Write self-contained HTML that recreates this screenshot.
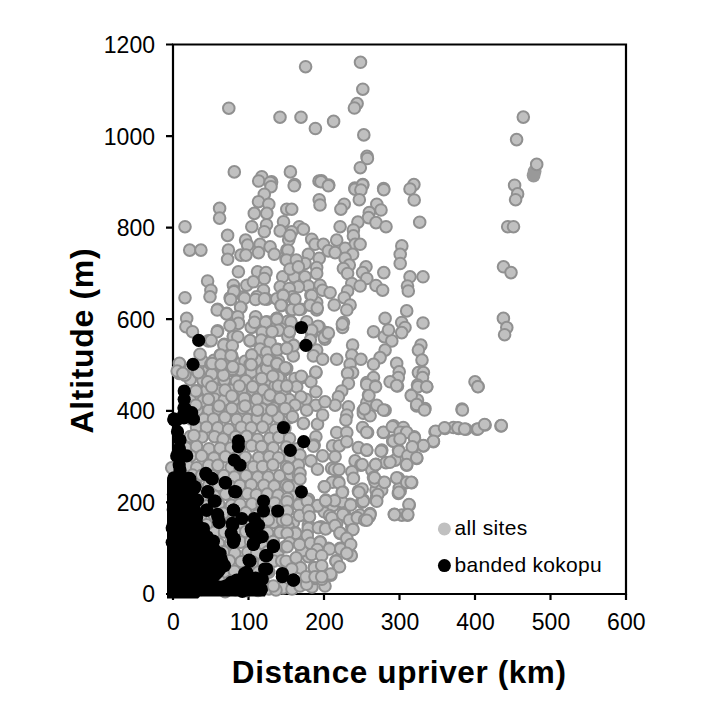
<!DOCTYPE html>
<html><head><meta charset="utf-8"><style>
html,body{margin:0;padding:0;background:#fff;}
body{width:720px;height:719px;overflow:hidden;position:relative;font-family:"Liberation Sans",sans-serif;}
svg{position:absolute;left:0;top:0;}
</style></head><body>
<svg width="720" height="719" viewBox="0 0 720 719">
<g fill="none" stroke="#000" stroke-width="2.2">
<path d="M173 44.5H626V594H173Z"/>
<path d="M166 44.5H173M166 136.1H173M166 227.7H173M166 319.2H173M166 410.8H173M166 502.4H173M166 594H173"/>
<path d="M173 594V600M248.5 594V600M324 594V600M399.5 594V600M475 594V600M550.5 594V600M626 594V600"/>
</g>
<g fill="#c0c0c0" stroke="#909090" stroke-width="2.0"><circle cx="202.0" cy="360.5" r="5.8"/><circle cx="214.0" cy="360.2" r="5.8"/><circle cx="224.6" cy="361.1" r="5.8"/><circle cx="234.2" cy="361.5" r="5.8"/><circle cx="245.1" cy="361.3" r="5.8"/><circle cx="256.2" cy="360.3" r="5.8"/><circle cx="268.3" cy="362.5" r="5.8"/><circle cx="278.4" cy="360.7" r="5.8"/><circle cx="197.4" cy="372.4" r="5.8"/><circle cx="208.2" cy="370.7" r="5.8"/><circle cx="220.4" cy="369.7" r="5.8"/><circle cx="231.1" cy="370.4" r="5.8"/><circle cx="239.9" cy="369.9" r="5.8"/><circle cx="251.4" cy="372.0" r="5.8"/><circle cx="262.0" cy="371.3" r="5.8"/><circle cx="274.4" cy="370.7" r="5.8"/><circle cx="285.1" cy="369.7" r="5.8"/><circle cx="190.2" cy="379.7" r="5.8"/><circle cx="203.0" cy="380.4" r="5.8"/><circle cx="212.9" cy="380.8" r="5.8"/><circle cx="224.4" cy="380.0" r="5.8"/><circle cx="236.4" cy="381.2" r="5.8"/><circle cx="245.7" cy="380.8" r="5.8"/><circle cx="257.6" cy="381.7" r="5.8"/><circle cx="269.2" cy="379.9" r="5.8"/><circle cx="280.9" cy="379.4" r="5.8"/><circle cx="196.8" cy="390.9" r="5.8"/><circle cx="207.0" cy="390.1" r="5.8"/><circle cx="217.6" cy="390.6" r="5.8"/><circle cx="230.8" cy="390.3" r="5.8"/><circle cx="242.1" cy="389.5" r="5.8"/><circle cx="252.6" cy="390.4" r="5.8"/><circle cx="263.2" cy="390.0" r="5.8"/><circle cx="275.0" cy="391.4" r="5.8"/><circle cx="284.9" cy="390.6" r="5.8"/><circle cx="190.2" cy="400.2" r="5.8"/><circle cx="202.9" cy="401.1" r="5.8"/><circle cx="214.5" cy="399.0" r="5.8"/><circle cx="224.2" cy="400.1" r="5.8"/><circle cx="234.1" cy="399.5" r="5.8"/><circle cx="245.5" cy="398.5" r="5.8"/><circle cx="256.2" cy="400.4" r="5.8"/><circle cx="267.4" cy="398.9" r="5.8"/><circle cx="279.2" cy="400.7" r="5.8"/><circle cx="289.2" cy="399.5" r="5.8"/><circle cx="197.1" cy="410.3" r="5.8"/><circle cx="209.0" cy="410.2" r="5.8"/><circle cx="218.3" cy="408.9" r="5.8"/><circle cx="229.6" cy="410.3" r="5.8"/><circle cx="242.4" cy="408.1" r="5.8"/><circle cx="251.0" cy="408.4" r="5.8"/><circle cx="262.2" cy="409.1" r="5.8"/><circle cx="274.3" cy="408.4" r="5.8"/><circle cx="283.5" cy="408.9" r="5.8"/><circle cx="191.1" cy="418.9" r="5.8"/><circle cx="203.9" cy="419.3" r="5.8"/><circle cx="213.5" cy="419.0" r="5.8"/><circle cx="225.0" cy="417.3" r="5.8"/><circle cx="236.7" cy="419.5" r="5.8"/><circle cx="247.6" cy="419.6" r="5.8"/><circle cx="257.2" cy="418.4" r="5.8"/><circle cx="267.3" cy="419.1" r="5.8"/><circle cx="278.2" cy="417.4" r="5.8"/><circle cx="289.6" cy="417.7" r="5.8"/><circle cx="196.5" cy="426.9" r="5.8"/><circle cx="206.5" cy="427.2" r="5.8"/><circle cx="217.8" cy="427.8" r="5.8"/><circle cx="228.6" cy="429.3" r="5.8"/><circle cx="241.3" cy="427.2" r="5.8"/><circle cx="251.3" cy="427.8" r="5.8"/><circle cx="262.6" cy="427.1" r="5.8"/><circle cx="275.0" cy="429.7" r="5.8"/><circle cx="284.9" cy="428.2" r="5.8"/><circle cx="190.3" cy="436.5" r="5.8"/><circle cx="202.0" cy="437.0" r="5.8"/><circle cx="214.5" cy="436.7" r="5.8"/><circle cx="223.1" cy="439.1" r="5.8"/><circle cx="235.6" cy="436.7" r="5.8"/><circle cx="246.6" cy="436.3" r="5.8"/><circle cx="257.6" cy="439.2" r="5.8"/><circle cx="269.6" cy="438.3" r="5.8"/><circle cx="278.8" cy="437.3" r="5.8"/><circle cx="289.5" cy="438.5" r="5.8"/><circle cx="186.1" cy="448.1" r="5.8"/><circle cx="196.5" cy="446.4" r="5.8"/><circle cx="208.9" cy="448.7" r="5.8"/><circle cx="220.1" cy="448.2" r="5.8"/><circle cx="231.0" cy="448.0" r="5.8"/><circle cx="240.2" cy="447.3" r="5.8"/><circle cx="251.6" cy="445.8" r="5.8"/><circle cx="261.6" cy="446.6" r="5.8"/><circle cx="273.3" cy="447.8" r="5.8"/><circle cx="286.4" cy="447.1" r="5.8"/><circle cx="297.3" cy="448.7" r="5.8"/><circle cx="181.9" cy="456.4" r="5.8"/><circle cx="190.7" cy="456.0" r="5.8"/><circle cx="201.6" cy="455.9" r="5.8"/><circle cx="213.9" cy="458.0" r="5.8"/><circle cx="225.5" cy="456.7" r="5.8"/><circle cx="236.0" cy="457.7" r="5.8"/><circle cx="245.3" cy="457.3" r="5.8"/><circle cx="258.7" cy="457.6" r="5.8"/><circle cx="269.3" cy="456.7" r="5.8"/><circle cx="278.5" cy="457.7" r="5.8"/><circle cx="290.0" cy="457.7" r="5.8"/><circle cx="187.4" cy="466.0" r="5.8"/><circle cx="196.7" cy="467.7" r="5.8"/><circle cx="208.7" cy="465.3" r="5.8"/><circle cx="217.9" cy="465.3" r="5.8"/><circle cx="231.2" cy="467.2" r="5.8"/><circle cx="239.9" cy="467.3" r="5.8"/><circle cx="253.4" cy="466.8" r="5.8"/><circle cx="262.6" cy="466.5" r="5.8"/><circle cx="272.9" cy="464.9" r="5.8"/><circle cx="286.4" cy="466.8" r="5.8"/><circle cx="296.1" cy="467.6" r="5.8"/><circle cx="180.3" cy="477.0" r="5.8"/><circle cx="192.5" cy="475.0" r="5.8"/><circle cx="201.8" cy="475.2" r="5.8"/><circle cx="212.7" cy="476.1" r="5.8"/><circle cx="223.8" cy="475.6" r="5.8"/><circle cx="234.4" cy="477.1" r="5.8"/><circle cx="246.1" cy="475.7" r="5.8"/><circle cx="257.8" cy="477.1" r="5.8"/><circle cx="268.3" cy="477.1" r="5.8"/><circle cx="279.5" cy="475.9" r="5.8"/><circle cx="290.6" cy="474.4" r="5.8"/><circle cx="174.8" cy="484.4" r="5.8"/><circle cx="184.5" cy="486.3" r="5.8"/><circle cx="196.0" cy="485.3" r="5.8"/><circle cx="208.7" cy="485.5" r="5.8"/><circle cx="218.5" cy="485.4" r="5.8"/><circle cx="230.2" cy="486.2" r="5.8"/><circle cx="239.8" cy="485.5" r="5.8"/><circle cx="251.2" cy="484.7" r="5.8"/><circle cx="263.8" cy="485.4" r="5.8"/><circle cx="274.2" cy="486.1" r="5.8"/><circle cx="286.2" cy="485.2" r="5.8"/><circle cx="296.3" cy="485.4" r="5.8"/><circle cx="180.5" cy="495.5" r="5.8"/><circle cx="191.4" cy="495.0" r="5.8"/><circle cx="202.4" cy="496.2" r="5.8"/><circle cx="214.1" cy="496.0" r="5.8"/><circle cx="225.8" cy="494.2" r="5.8"/><circle cx="235.7" cy="496.2" r="5.8"/><circle cx="247.5" cy="493.8" r="5.8"/><circle cx="256.4" cy="494.7" r="5.8"/><circle cx="267.2" cy="494.1" r="5.8"/><circle cx="278.2" cy="495.4" r="5.8"/><circle cx="291.4" cy="496.1" r="5.8"/><circle cx="174.0" cy="505.1" r="5.8"/><circle cx="186.5" cy="503.3" r="5.8"/><circle cx="198.1" cy="505.8" r="5.8"/><circle cx="207.2" cy="505.8" r="5.8"/><circle cx="218.7" cy="504.4" r="5.8"/><circle cx="231.5" cy="505.4" r="5.8"/><circle cx="240.0" cy="504.2" r="5.8"/><circle cx="252.0" cy="503.9" r="5.8"/><circle cx="262.1" cy="503.9" r="5.8"/><circle cx="274.7" cy="503.0" r="5.8"/><circle cx="285.2" cy="504.2" r="5.8"/><circle cx="179.1" cy="513.4" r="5.8"/><circle cx="191.9" cy="514.0" r="5.8"/><circle cx="201.2" cy="515.4" r="5.8"/><circle cx="214.4" cy="515.4" r="5.8"/><circle cx="223.3" cy="513.2" r="5.8"/><circle cx="234.1" cy="514.8" r="5.8"/><circle cx="245.8" cy="512.8" r="5.8"/><circle cx="257.3" cy="515.2" r="5.8"/><circle cx="269.5" cy="513.2" r="5.8"/><circle cx="278.4" cy="515.2" r="5.8"/><circle cx="175.2" cy="524.1" r="5.8"/><circle cx="184.8" cy="522.1" r="5.8"/><circle cx="197.6" cy="523.2" r="5.8"/><circle cx="206.7" cy="524.8" r="5.8"/><circle cx="219.4" cy="524.4" r="5.8"/><circle cx="228.8" cy="524.5" r="5.8"/><circle cx="239.7" cy="524.6" r="5.8"/><circle cx="251.9" cy="523.0" r="5.8"/><circle cx="263.2" cy="524.7" r="5.8"/><circle cx="273.3" cy="522.4" r="5.8"/><circle cx="285.1" cy="522.7" r="5.8"/><circle cx="179.3" cy="532.0" r="5.8"/><circle cx="190.2" cy="532.1" r="5.8"/><circle cx="201.9" cy="532.4" r="5.8"/><circle cx="214.3" cy="532.4" r="5.8"/><circle cx="224.5" cy="532.0" r="5.8"/><circle cx="235.0" cy="531.5" r="5.8"/><circle cx="245.8" cy="531.5" r="5.8"/><circle cx="258.2" cy="533.1" r="5.8"/><circle cx="267.6" cy="532.9" r="5.8"/><circle cx="280.8" cy="531.8" r="5.8"/><circle cx="176.0" cy="542.3" r="5.8"/><circle cx="186.0" cy="543.5" r="5.8"/><circle cx="196.7" cy="542.5" r="5.8"/><circle cx="208.6" cy="544.0" r="5.8"/><circle cx="218.5" cy="543.5" r="5.8"/><circle cx="230.6" cy="542.9" r="5.8"/><circle cx="240.7" cy="542.1" r="5.8"/><circle cx="250.7" cy="541.4" r="5.8"/><circle cx="261.7" cy="543.2" r="5.8"/><circle cx="273.3" cy="541.5" r="5.8"/><circle cx="179.3" cy="553.1" r="5.8"/><circle cx="192.6" cy="552.6" r="5.8"/><circle cx="201.8" cy="551.3" r="5.8"/><circle cx="212.9" cy="551.9" r="5.8"/><circle cx="223.5" cy="551.9" r="5.8"/><circle cx="234.8" cy="553.4" r="5.8"/><circle cx="247.9" cy="552.2" r="5.8"/><circle cx="256.7" cy="553.4" r="5.8"/><circle cx="267.9" cy="551.6" r="5.8"/><circle cx="278.0" cy="551.7" r="5.8"/><circle cx="174.9" cy="561.6" r="5.8"/><circle cx="185.1" cy="561.6" r="5.8"/><circle cx="195.5" cy="560.9" r="5.8"/><circle cx="206.8" cy="561.3" r="5.8"/><circle cx="217.6" cy="560.1" r="5.8"/><circle cx="229.4" cy="560.8" r="5.8"/><circle cx="241.3" cy="561.7" r="5.8"/><circle cx="252.8" cy="562.0" r="5.8"/><circle cx="263.6" cy="562.7" r="5.8"/><circle cx="273.7" cy="561.1" r="5.8"/><circle cx="182.0" cy="570.0" r="5.8"/><circle cx="192.2" cy="571.5" r="5.8"/><circle cx="201.1" cy="572.1" r="5.8"/><circle cx="214.7" cy="571.5" r="5.8"/><circle cx="225.2" cy="572.0" r="5.8"/><circle cx="234.4" cy="571.2" r="5.8"/><circle cx="246.5" cy="572.1" r="5.8"/><circle cx="258.4" cy="572.1" r="5.8"/><circle cx="268.8" cy="572.3" r="5.8"/><circle cx="175.5" cy="581.2" r="5.8"/><circle cx="185.2" cy="579.2" r="5.8"/><circle cx="195.9" cy="580.2" r="5.8"/><circle cx="206.8" cy="581.6" r="5.8"/><circle cx="219.2" cy="581.0" r="5.8"/><circle cx="230.4" cy="581.2" r="5.8"/><circle cx="241.0" cy="579.1" r="5.8"/><circle cx="252.9" cy="581.4" r="5.8"/><circle cx="263.0" cy="580.7" r="5.8"/><circle cx="181.0" cy="588.8" r="5.8"/><circle cx="192.2" cy="589.4" r="5.8"/><circle cx="201.2" cy="589.4" r="5.8"/><circle cx="214.2" cy="589.3" r="5.8"/><circle cx="225.2" cy="591.6" r="5.8"/><circle cx="235.5" cy="589.8" r="5.8"/><circle cx="246.4" cy="590.7" r="5.8"/><circle cx="258.3" cy="590.5" r="5.8"/><circle cx="268.9" cy="588.9" r="5.8"/><circle cx="283.0" cy="588.0" r="5.8"/><circle cx="292.0" cy="589.0" r="5.8"/><circle cx="300.0" cy="586.0" r="5.8"/><circle cx="312.0" cy="587.0" r="5.8"/><circle cx="276.0" cy="590.0" r="5.8"/><circle cx="325.0" cy="586.0" r="5.8"/><circle cx="305.6" cy="66.7" r="5.8"/><circle cx="228.8" cy="108.2" r="5.8"/><circle cx="280.0" cy="117.2" r="5.8"/><circle cx="301.0" cy="117.2" r="5.8"/><circle cx="315.4" cy="128.5" r="5.8"/><circle cx="234.3" cy="171.9" r="5.8"/><circle cx="261.8" cy="176.7" r="5.8"/><circle cx="258.7" cy="181.0" r="5.8"/><circle cx="271.6" cy="181.9" r="5.8"/><circle cx="290.4" cy="171.9" r="5.8"/><circle cx="294.6" cy="184.6" r="5.8"/><circle cx="319.0" cy="181.0" r="5.8"/><circle cx="360.5" cy="62.3" r="5.8"/><circle cx="362.8" cy="89.2" r="5.8"/><circle cx="357.1" cy="103.6" r="5.8"/><circle cx="354.4" cy="108.0" r="5.8"/><circle cx="333.6" cy="121.4" r="5.8"/><circle cx="363.8" cy="134.9" r="5.8"/><circle cx="367.0" cy="156.4" r="5.8"/><circle cx="367.4" cy="158.5" r="5.8"/><circle cx="360.3" cy="167.7" r="5.8"/><circle cx="321.5" cy="180.8" r="5.8"/><circle cx="328.8" cy="185.0" r="5.8"/><circle cx="362.8" cy="184.6" r="5.8"/><circle cx="354.8" cy="188.0" r="5.8"/><circle cx="383.6" cy="188.5" r="5.8"/><circle cx="413.9" cy="184.6" r="5.8"/><circle cx="410.0" cy="189.0" r="5.8"/><circle cx="523.3" cy="117.1" r="5.8"/><circle cx="516.6" cy="139.6" r="5.8"/><circle cx="514.6" cy="185.2" r="5.8"/><circle cx="517.6" cy="193.9" r="5.8"/><circle cx="515.6" cy="199.7" r="5.8"/><circle cx="270.1" cy="182.5" r="5.8"/><circle cx="271.0" cy="186.7" r="5.8"/><circle cx="264.3" cy="194.2" r="5.8"/><circle cx="258.5" cy="201.7" r="5.8"/><circle cx="268.8" cy="204.2" r="5.8"/><circle cx="219.6" cy="208.4" r="5.8"/><circle cx="219.6" cy="218.1" r="5.8"/><circle cx="254.3" cy="213.4" r="5.8"/><circle cx="266.8" cy="213.4" r="5.8"/><circle cx="286.8" cy="209.2" r="5.8"/><circle cx="185.0" cy="226.7" r="5.8"/><circle cx="251.8" cy="226.7" r="5.8"/><circle cx="266.5" cy="224.7" r="5.8"/><circle cx="264.3" cy="231.7" r="5.8"/><circle cx="283.5" cy="221.7" r="5.8"/><circle cx="280.2" cy="230.9" r="5.8"/><circle cx="227.6" cy="235.4" r="5.8"/><circle cx="245.6" cy="240.1" r="5.8"/><circle cx="247.6" cy="245.1" r="5.8"/><circle cx="260.1" cy="244.3" r="5.8"/><circle cx="270.1" cy="246.8" r="5.8"/><circle cx="189.7" cy="250.1" r="5.8"/><circle cx="200.9" cy="250.1" r="5.8"/><circle cx="228.4" cy="250.1" r="5.8"/><circle cx="227.6" cy="259.3" r="5.8"/><circle cx="240.9" cy="255.1" r="5.8"/><circle cx="245.9" cy="255.1" r="5.8"/><circle cx="258.5" cy="252.6" r="5.8"/><circle cx="274.3" cy="254.3" r="5.8"/><circle cx="286.8" cy="250.1" r="5.8"/><circle cx="286.0" cy="259.3" r="5.8"/><circle cx="238.4" cy="271.8" r="5.8"/><circle cx="257.6" cy="271.8" r="5.8"/><circle cx="266.0" cy="272.6" r="5.8"/><circle cx="264.3" cy="278.5" r="5.8"/><circle cx="207.6" cy="281.0" r="5.8"/><circle cx="210.9" cy="290.2" r="5.8"/><circle cx="233.4" cy="285.2" r="5.8"/><circle cx="234.3" cy="291.0" r="5.8"/><circle cx="246.8" cy="285.2" r="5.8"/><circle cx="253.4" cy="281.8" r="5.8"/><circle cx="263.5" cy="290.2" r="5.8"/><circle cx="282.7" cy="276.8" r="5.8"/><circle cx="280.2" cy="286.8" r="5.8"/><circle cx="285.2" cy="295.2" r="5.8"/><circle cx="185.0" cy="297.7" r="5.8"/><circle cx="210.0" cy="296.8" r="5.8"/><circle cx="230.1" cy="297.7" r="5.8"/><circle cx="243.4" cy="296.8" r="5.8"/><circle cx="256.8" cy="296.8" r="5.8"/><circle cx="294.2" cy="185.8" r="5.8"/><circle cx="320.9" cy="181.7" r="5.8"/><circle cx="328.4" cy="185.8" r="5.8"/><circle cx="355.1" cy="189.2" r="5.8"/><circle cx="362.6" cy="185.0" r="5.8"/><circle cx="360.9" cy="190.0" r="5.8"/><circle cx="359.3" cy="199.7" r="5.8"/><circle cx="383.8" cy="189.7" r="5.8"/><circle cx="319.2" cy="199.7" r="5.8"/><circle cx="320.0" cy="205.0" r="5.8"/><circle cx="344.2" cy="204.2" r="5.8"/><circle cx="340.9" cy="209.2" r="5.8"/><circle cx="376.8" cy="204.2" r="5.8"/><circle cx="381.0" cy="210.0" r="5.8"/><circle cx="369.3" cy="212.5" r="5.8"/><circle cx="368.5" cy="217.6" r="5.8"/><circle cx="376.0" cy="222.6" r="5.8"/><circle cx="386.0" cy="226.7" r="5.8"/><circle cx="357.9" cy="222.1" r="5.8"/><circle cx="291.7" cy="209.2" r="5.8"/><circle cx="299.2" cy="226.7" r="5.8"/><circle cx="303.4" cy="229.2" r="5.8"/><circle cx="291.7" cy="231.7" r="5.8"/><circle cx="340.1" cy="226.7" r="5.8"/><circle cx="353.4" cy="230.0" r="5.8"/><circle cx="353.4" cy="235.9" r="5.8"/><circle cx="336.7" cy="240.1" r="5.8"/><circle cx="311.7" cy="239.2" r="5.8"/><circle cx="315.0" cy="244.3" r="5.8"/><circle cx="323.4" cy="244.3" r="5.8"/><circle cx="355.1" cy="244.3" r="5.8"/><circle cx="360.1" cy="244.3" r="5.8"/><circle cx="345.1" cy="248.4" r="5.8"/><circle cx="328.4" cy="250.9" r="5.8"/><circle cx="335.1" cy="252.6" r="5.8"/><circle cx="308.4" cy="254.3" r="5.8"/><circle cx="319.2" cy="258.4" r="5.8"/><circle cx="352.6" cy="254.3" r="5.8"/><circle cx="345.1" cy="258.4" r="5.8"/><circle cx="349.3" cy="265.1" r="5.8"/><circle cx="343.4" cy="268.5" r="5.8"/><circle cx="366.0" cy="266.8" r="5.8"/><circle cx="362.6" cy="272.6" r="5.8"/><circle cx="347.6" cy="273.5" r="5.8"/><circle cx="316.7" cy="267.6" r="5.8"/><circle cx="316.7" cy="273.5" r="5.8"/><circle cx="298.4" cy="268.5" r="5.8"/><circle cx="305.0" cy="263.5" r="5.8"/><circle cx="294.2" cy="276.8" r="5.8"/><circle cx="305.0" cy="276.8" r="5.8"/><circle cx="383.8" cy="272.6" r="5.8"/><circle cx="366.8" cy="278.5" r="5.8"/><circle cx="351.8" cy="283.5" r="5.8"/><circle cx="360.1" cy="286.0" r="5.8"/><circle cx="376.0" cy="285.5" r="5.8"/><circle cx="382.6" cy="290.2" r="5.8"/><circle cx="308.4" cy="286.0" r="5.8"/><circle cx="298.4" cy="286.8" r="5.8"/><circle cx="320.0" cy="285.2" r="5.8"/><circle cx="322.6" cy="290.2" r="5.8"/><circle cx="330.1" cy="292.7" r="5.8"/><circle cx="347.6" cy="291.0" r="5.8"/><circle cx="310.9" cy="295.2" r="5.8"/><circle cx="289.2" cy="288.5" r="5.8"/><circle cx="292.5" cy="296.8" r="5.8"/><circle cx="344.2" cy="297.7" r="5.8"/><circle cx="401.8" cy="245.9" r="5.8"/><circle cx="400.2" cy="254.3" r="5.8"/><circle cx="400.2" cy="263.5" r="5.8"/><circle cx="414.2" cy="200.0" r="5.8"/><circle cx="419.7" cy="222.2" r="5.8"/><circle cx="410.0" cy="276.8" r="5.8"/><circle cx="423.0" cy="276.8" r="5.8"/><circle cx="407.5" cy="286.0" r="5.8"/><circle cx="408.3" cy="291.0" r="5.8"/><circle cx="507.7" cy="226.7" r="5.8"/><circle cx="513.5" cy="226.7" r="5.8"/><circle cx="503.5" cy="266.8" r="5.8"/><circle cx="511.0" cy="272.6" r="5.8"/><circle cx="503.4" cy="318.4" r="5.8"/><circle cx="506.8" cy="327.6" r="5.8"/><circle cx="504.6" cy="334.7" r="5.8"/><circle cx="475.0" cy="381.8" r="5.8"/><circle cx="478.1" cy="386.5" r="5.8"/><circle cx="462.0" cy="409.0" r="5.8"/><circle cx="406.7" cy="310.9" r="5.8"/><circle cx="401.7" cy="322.5" r="5.8"/><circle cx="405.0" cy="327.5" r="5.8"/><circle cx="401.7" cy="332.6" r="5.8"/><circle cx="423.0" cy="323.0" r="5.8"/><circle cx="420.9" cy="345.1" r="5.8"/><circle cx="418.4" cy="350.1" r="5.8"/><circle cx="422.0" cy="360.1" r="5.8"/><circle cx="396.7" cy="363.4" r="5.8"/><circle cx="399.2" cy="371.8" r="5.8"/><circle cx="398.3" cy="377.6" r="5.8"/><circle cx="397.5" cy="386.0" r="5.8"/><circle cx="418.4" cy="372.6" r="5.8"/><circle cx="423.4" cy="372.6" r="5.8"/><circle cx="422.5" cy="377.6" r="5.8"/><circle cx="417.5" cy="385.1" r="5.8"/><circle cx="426.7" cy="386.8" r="5.8"/><circle cx="411.7" cy="395.1" r="5.8"/><circle cx="417.5" cy="400.1" r="5.8"/><circle cx="416.7" cy="406.0" r="5.8"/><circle cx="425.0" cy="408.5" r="5.8"/><circle cx="294.2" cy="299.2" r="5.8"/><circle cx="310.0" cy="305.0" r="5.8"/><circle cx="316.7" cy="302.5" r="5.8"/><circle cx="316.7" cy="310.0" r="5.8"/><circle cx="291.7" cy="310.0" r="5.8"/><circle cx="300.9" cy="309.2" r="5.8"/><circle cx="334.2" cy="305.0" r="5.8"/><circle cx="350.1" cy="305.0" r="5.8"/><circle cx="346.8" cy="310.0" r="5.8"/><circle cx="290.8" cy="321.7" r="5.8"/><circle cx="289.2" cy="332.6" r="5.8"/><circle cx="306.7" cy="321.7" r="5.8"/><circle cx="311.7" cy="333.4" r="5.8"/><circle cx="319.2" cy="326.7" r="5.8"/><circle cx="325.9" cy="332.6" r="5.8"/><circle cx="325.0" cy="339.2" r="5.8"/><circle cx="343.4" cy="322.5" r="5.8"/><circle cx="342.6" cy="327.5" r="5.8"/><circle cx="293.3" cy="345.1" r="5.8"/><circle cx="293.3" cy="355.9" r="5.8"/><circle cx="316.7" cy="350.1" r="5.8"/><circle cx="313.4" cy="355.9" r="5.8"/><circle cx="322.6" cy="359.3" r="5.8"/><circle cx="336.7" cy="359.3" r="5.8"/><circle cx="286.7" cy="368.4" r="5.8"/><circle cx="352.6" cy="345.1" r="5.8"/><circle cx="351.8" cy="355.1" r="5.8"/><circle cx="360.9" cy="359.3" r="5.8"/><circle cx="350.1" cy="364.3" r="5.8"/><circle cx="352.6" cy="372.6" r="5.8"/><circle cx="347.6" cy="373.4" r="5.8"/><circle cx="348.4" cy="383.5" r="5.8"/><circle cx="341.7" cy="391.0" r="5.8"/><circle cx="338.4" cy="396.8" r="5.8"/><circle cx="335.1" cy="405.2" r="5.8"/><circle cx="348.4" cy="406.8" r="5.8"/><circle cx="373.5" cy="331.7" r="5.8"/><circle cx="385.1" cy="318.4" r="5.8"/><circle cx="384.3" cy="336.7" r="5.8"/><circle cx="391.8" cy="340.9" r="5.8"/><circle cx="388.5" cy="330.0" r="5.8"/><circle cx="385.1" cy="350.1" r="5.8"/><circle cx="380.1" cy="357.6" r="5.8"/><circle cx="373.5" cy="364.3" r="5.8"/><circle cx="390.1" cy="381.8" r="5.8"/><circle cx="366.8" cy="382.6" r="5.8"/><circle cx="373.5" cy="377.6" r="5.8"/><circle cx="375.1" cy="386.0" r="5.8"/><circle cx="368.5" cy="395.1" r="5.8"/><circle cx="366.8" cy="402.7" r="5.8"/><circle cx="376.8" cy="405.2" r="5.8"/><circle cx="385.1" cy="410.2" r="5.8"/><circle cx="363.4" cy="410.2" r="5.8"/><circle cx="315.9" cy="372.6" r="5.8"/><circle cx="301.7" cy="377.6" r="5.8"/><circle cx="295.0" cy="378.5" r="5.8"/><circle cx="310.9" cy="381.8" r="5.8"/><circle cx="287.5" cy="386.0" r="5.8"/><circle cx="296.7" cy="386.8" r="5.8"/><circle cx="315.9" cy="391.8" r="5.8"/><circle cx="305.9" cy="399.3" r="5.8"/><circle cx="300.9" cy="396.8" r="5.8"/><circle cx="295.0" cy="405.2" r="5.8"/><circle cx="315.9" cy="405.2" r="5.8"/><circle cx="325.0" cy="401.8" r="5.8"/><circle cx="288.3" cy="411.8" r="5.8"/><circle cx="306.7" cy="410.2" r="5.8"/><circle cx="266.8" cy="299.2" r="5.8"/><circle cx="281.8" cy="305.0" r="5.8"/><circle cx="217.6" cy="309.2" r="5.8"/><circle cx="226.7" cy="313.4" r="5.8"/><circle cx="240.9" cy="307.5" r="5.8"/><circle cx="186.7" cy="318.4" r="5.8"/><circle cx="185.9" cy="326.7" r="5.8"/><circle cx="192.5" cy="331.7" r="5.8"/><circle cx="217.6" cy="330.9" r="5.8"/><circle cx="208.4" cy="340.9" r="5.8"/><circle cx="238.4" cy="322.5" r="5.8"/><circle cx="234.3" cy="317.5" r="5.8"/><circle cx="251.8" cy="327.5" r="5.8"/><circle cx="256.0" cy="317.5" r="5.8"/><circle cx="266.8" cy="321.7" r="5.8"/><circle cx="276.8" cy="318.4" r="5.8"/><circle cx="271.0" cy="332.6" r="5.8"/><circle cx="280.2" cy="330.0" r="5.8"/><circle cx="233.4" cy="335.9" r="5.8"/><circle cx="250.1" cy="340.9" r="5.8"/><circle cx="224.2" cy="344.2" r="5.8"/><circle cx="261.0" cy="348.4" r="5.8"/><circle cx="277.7" cy="349.2" r="5.8"/><circle cx="270.1" cy="346.7" r="5.8"/><circle cx="200.0" cy="354.2" r="5.8"/><circle cx="220.1" cy="355.1" r="5.8"/><circle cx="231.8" cy="355.9" r="5.8"/><circle cx="251.8" cy="355.1" r="5.8"/><circle cx="270.1" cy="360.1" r="5.8"/><circle cx="180.0" cy="365.1" r="5.8"/><circle cx="179.2" cy="373.4" r="5.8"/><circle cx="185.0" cy="375.1" r="5.8"/><circle cx="198.4" cy="372.6" r="5.8"/><circle cx="210.9" cy="364.3" r="5.8"/><circle cx="220.9" cy="365.1" r="5.8"/><circle cx="232.6" cy="369.3" r="5.8"/><circle cx="250.1" cy="364.3" r="5.8"/><circle cx="266.8" cy="368.4" r="5.8"/><circle cx="276.8" cy="364.3" r="5.8"/><circle cx="211.7" cy="374.3" r="5.8"/><circle cx="223.4" cy="375.1" r="5.8"/><circle cx="261.8" cy="378.5" r="5.8"/><circle cx="278.5" cy="377.6" r="5.8"/><circle cx="207.6" cy="381.8" r="5.8"/><circle cx="195.9" cy="391.0" r="5.8"/><circle cx="211.7" cy="386.8" r="5.8"/><circle cx="225.1" cy="390.1" r="5.8"/><circle cx="239.3" cy="386.0" r="5.8"/><circle cx="252.6" cy="386.8" r="5.8"/><circle cx="275.1" cy="386.0" r="5.8"/><circle cx="208.4" cy="399.3" r="5.8"/><circle cx="231.8" cy="396.0" r="5.8"/><circle cx="244.3" cy="398.5" r="5.8"/><circle cx="256.8" cy="399.3" r="5.8"/><circle cx="270.1" cy="395.1" r="5.8"/><circle cx="280.2" cy="398.5" r="5.8"/><circle cx="195.9" cy="405.2" r="5.8"/><circle cx="219.2" cy="406.0" r="5.8"/><circle cx="231.8" cy="408.5" r="5.8"/><circle cx="245.1" cy="406.0" r="5.8"/><circle cx="257.6" cy="410.2" r="5.8"/><circle cx="271.8" cy="410.2" r="5.8"/><circle cx="285.2" cy="408.5" r="5.8"/><circle cx="292.5" cy="416.7" r="5.8"/><circle cx="303.4" cy="423.4" r="5.8"/><circle cx="317.5" cy="424.2" r="5.8"/><circle cx="322.6" cy="415.0" r="5.8"/><circle cx="346.8" cy="415.0" r="5.8"/><circle cx="345.9" cy="420.0" r="5.8"/><circle cx="363.4" cy="413.3" r="5.8"/><circle cx="370.1" cy="415.8" r="5.8"/><circle cx="336.7" cy="432.5" r="5.8"/><circle cx="346.8" cy="432.5" r="5.8"/><circle cx="362.6" cy="427.5" r="5.8"/><circle cx="367.6" cy="432.5" r="5.8"/><circle cx="383.5" cy="432.5" r="5.8"/><circle cx="393.5" cy="425.9" r="5.8"/><circle cx="400.2" cy="431.7" r="5.8"/><circle cx="315.9" cy="436.7" r="5.8"/><circle cx="314.2" cy="445.0" r="5.8"/><circle cx="332.6" cy="445.9" r="5.8"/><circle cx="339.2" cy="445.9" r="5.8"/><circle cx="346.8" cy="441.7" r="5.8"/><circle cx="358.4" cy="447.6" r="5.8"/><circle cx="366.8" cy="450.1" r="5.8"/><circle cx="381.8" cy="450.1" r="5.8"/><circle cx="392.7" cy="440.9" r="5.8"/><circle cx="398.5" cy="450.1" r="5.8"/><circle cx="300.0" cy="455.1" r="5.8"/><circle cx="310.9" cy="460.9" r="5.8"/><circle cx="322.6" cy="455.9" r="5.8"/><circle cx="335.1" cy="456.7" r="5.8"/><circle cx="355.1" cy="460.9" r="5.8"/><circle cx="360.9" cy="465.1" r="5.8"/><circle cx="376.0" cy="464.2" r="5.8"/><circle cx="386.0" cy="462.6" r="5.8"/><circle cx="395.2" cy="460.1" r="5.8"/><circle cx="298.4" cy="465.1" r="5.8"/><circle cx="288.3" cy="468.4" r="5.8"/><circle cx="317.5" cy="469.3" r="5.8"/><circle cx="331.7" cy="468.4" r="5.8"/><circle cx="351.8" cy="471.8" r="5.8"/><circle cx="371.8" cy="470.1" r="5.8"/><circle cx="298.4" cy="475.1" r="5.8"/><circle cx="353.4" cy="478.4" r="5.8"/><circle cx="373.5" cy="477.6" r="5.8"/><circle cx="383.5" cy="482.6" r="5.8"/><circle cx="398.5" cy="478.4" r="5.8"/><circle cx="288.3" cy="486.8" r="5.8"/><circle cx="324.2" cy="486.8" r="5.8"/><circle cx="338.4" cy="481.8" r="5.8"/><circle cx="342.6" cy="491.8" r="5.8"/><circle cx="358.4" cy="491.0" r="5.8"/><circle cx="376.0" cy="490.1" r="5.8"/><circle cx="400.2" cy="491.0" r="5.8"/><circle cx="287.5" cy="498.5" r="5.8"/><circle cx="299.2" cy="504.3" r="5.8"/><circle cx="308.4" cy="499.3" r="5.8"/><circle cx="325.9" cy="500.1" r="5.8"/><circle cx="335.9" cy="500.1" r="5.8"/><circle cx="350.1" cy="504.3" r="5.8"/><circle cx="363.4" cy="500.1" r="5.8"/><circle cx="376.0" cy="500.1" r="5.8"/><circle cx="317.5" cy="506.0" r="5.8"/><circle cx="287.5" cy="510.1" r="5.8"/><circle cx="300.0" cy="515.1" r="5.8"/><circle cx="309.2" cy="510.1" r="5.8"/><circle cx="324.2" cy="511.8" r="5.8"/><circle cx="344.2" cy="512.6" r="5.8"/><circle cx="360.1" cy="515.1" r="5.8"/><circle cx="370.1" cy="513.5" r="5.8"/><circle cx="349.3" cy="519.3" r="5.8"/><circle cx="366.8" cy="519.3" r="5.8"/><circle cx="394.3" cy="514.3" r="5.8"/><circle cx="401.8" cy="515.1" r="5.8"/><circle cx="293.3" cy="522.7" r="5.8"/><circle cx="308.4" cy="525.2" r="5.8"/><circle cx="320.9" cy="526.8" r="5.8"/><circle cx="336.7" cy="523.5" r="5.8"/><circle cx="351.8" cy="526.8" r="5.8"/><circle cx="288.3" cy="526.8" r="5.8"/><circle cx="403.3" cy="427.5" r="5.8"/><circle cx="404.2" cy="432.5" r="5.8"/><circle cx="414.2" cy="436.7" r="5.8"/><circle cx="435.0" cy="431.7" r="5.8"/><circle cx="445.1" cy="428.4" r="5.8"/><circle cx="453.4" cy="427.5" r="5.8"/><circle cx="458.4" cy="428.4" r="5.8"/><circle cx="465.9" cy="429.2" r="5.8"/><circle cx="476.8" cy="429.2" r="5.8"/><circle cx="485.1" cy="425.0" r="5.8"/><circle cx="501.0" cy="425.9" r="5.8"/><circle cx="433.4" cy="441.7" r="5.8"/><circle cx="423.4" cy="445.9" r="5.8"/><circle cx="412.5" cy="447.6" r="5.8"/><circle cx="408.3" cy="456.7" r="5.8"/><circle cx="416.7" cy="458.4" r="5.8"/><circle cx="406.7" cy="465.1" r="5.8"/><circle cx="405.8" cy="482.6" r="5.8"/><circle cx="411.7" cy="482.6" r="5.8"/><circle cx="409.2" cy="505.1" r="5.8"/><circle cx="407.5" cy="515.1" r="5.8"/><circle cx="179.4" cy="363.3" r="5.8"/><circle cx="177.2" cy="371.1" r="5.8"/><circle cx="182.8" cy="373.3" r="5.8"/><circle cx="193.9" cy="435.5" r="5.8"/><circle cx="171.7" cy="467.8" r="5.8"/><circle cx="361.8" cy="501.7" r="5.8"/><circle cx="268.3" cy="520.0" r="5.8"/><circle cx="282.5" cy="520.0" r="5.8"/><circle cx="309.2" cy="516.7" r="5.8"/><circle cx="356.0" cy="517.5" r="5.8"/><circle cx="369.3" cy="516.7" r="5.8"/><circle cx="280.0" cy="532.5" r="5.8"/><circle cx="295.0" cy="532.5" r="5.8"/><circle cx="308.4" cy="529.2" r="5.8"/><circle cx="325.1" cy="528.4" r="5.8"/><circle cx="340.1" cy="533.4" r="5.8"/><circle cx="352.6" cy="529.2" r="5.8"/><circle cx="320.1" cy="541.7" r="5.8"/><circle cx="328.4" cy="548.4" r="5.8"/><circle cx="340.1" cy="548.4" r="5.8"/><circle cx="347.6" cy="541.7" r="5.8"/><circle cx="351.0" cy="555.1" r="5.8"/><circle cx="301.7" cy="550.9" r="5.8"/><circle cx="285.0" cy="546.7" r="5.8"/><circle cx="281.7" cy="560.9" r="5.8"/><circle cx="295.0" cy="560.1" r="5.8"/><circle cx="308.4" cy="556.7" r="5.8"/><circle cx="335.9" cy="560.9" r="5.8"/><circle cx="338.4" cy="566.8" r="5.8"/><circle cx="300.0" cy="567.6" r="5.8"/><circle cx="314.2" cy="567.6" r="5.8"/><circle cx="330.9" cy="575.1" r="5.8"/><circle cx="305.9" cy="578.4" r="5.8"/><circle cx="315.1" cy="578.4" r="5.8"/><circle cx="321.8" cy="579.3" r="5.8"/><circle cx="306.7" cy="584.3" r="5.8"/><circle cx="273.4" cy="586.0" r="5.8"/><circle cx="268.3" cy="570.1" r="5.8"/><circle cx="375.0" cy="481.7" r="5.8"/><circle cx="376.7" cy="495.9" r="5.8"/><circle cx="381.7" cy="490.0" r="5.8"/><circle cx="399.2" cy="488.3" r="5.8"/><circle cx="398.4" cy="493.4" r="5.8"/><circle cx="287.2" cy="501.7" r="5.8"/><circle cx="298.9" cy="505.0" r="5.8"/><circle cx="307.3" cy="501.1" r="5.8"/><circle cx="317.8" cy="505.6" r="5.8"/><circle cx="326.2" cy="501.7" r="5.8"/><circle cx="332.9" cy="505.6" r="5.8"/><circle cx="341.8" cy="501.7" r="5.8"/><circle cx="350.7" cy="505.0" r="5.8"/><circle cx="361.8" cy="502.2" r="5.8"/><circle cx="287.2" cy="511.1" r="5.8"/><circle cx="299.5" cy="515.6" r="5.8"/><circle cx="308.4" cy="510.6" r="5.8"/><circle cx="309.5" cy="516.7" r="5.8"/><circle cx="329.5" cy="515.6" r="5.8"/><circle cx="331.7" cy="517.8" r="5.8"/><circle cx="342.9" cy="514.5" r="5.8"/><circle cx="349.6" cy="520.0" r="5.8"/><circle cx="357.3" cy="517.8" r="5.8"/><circle cx="364.6" cy="520.0" r="5.8"/><circle cx="286.7" cy="520.0" r="5.8"/><circle cx="295.6" cy="533.4" r="5.8"/><circle cx="308.4" cy="528.4" r="5.8"/><circle cx="307.3" cy="535.6" r="5.8"/><circle cx="318.4" cy="527.8" r="5.8"/><circle cx="325.6" cy="528.9" r="5.8"/><circle cx="335.1" cy="525.6" r="5.8"/><circle cx="340.1" cy="532.8" r="5.8"/><circle cx="352.9" cy="529.5" r="5.8"/><circle cx="346.8" cy="538.4" r="5.8"/><circle cx="287.2" cy="533.4" r="5.8"/><circle cx="289.5" cy="542.8" r="5.8"/><circle cx="287.2" cy="546.7" r="5.8"/><circle cx="302.3" cy="550.6" r="5.8"/><circle cx="299.5" cy="544.5" r="5.8"/><circle cx="310.6" cy="543.4" r="5.8"/><circle cx="320.1" cy="542.3" r="5.8"/><circle cx="317.3" cy="549.5" r="5.8"/><circle cx="329.5" cy="549.0" r="5.8"/><circle cx="340.7" cy="549.0" r="5.8"/><circle cx="350.7" cy="544.5" r="5.8"/><circle cx="351.2" cy="555.7" r="5.8"/><circle cx="346.8" cy="553.4" r="5.8"/><circle cx="286.1" cy="561.2" r="5.8"/><circle cx="296.1" cy="557.9" r="5.8"/><circle cx="311.7" cy="554.5" r="5.8"/><circle cx="321.7" cy="555.7" r="5.8"/><circle cx="336.2" cy="561.2" r="5.8"/><circle cx="339.5" cy="566.8" r="5.8"/><circle cx="300.6" cy="567.9" r="5.8"/><circle cx="314.5" cy="567.9" r="5.8"/><circle cx="321.7" cy="565.7" r="5.8"/><circle cx="330.6" cy="574.0" r="5.8"/><circle cx="306.1" cy="576.8" r="5.8"/><circle cx="315.0" cy="576.8" r="5.8"/><circle cx="321.7" cy="576.8" r="5.8"/><circle cx="291.7" cy="569.0" r="5.8"/><circle cx="233.9" cy="291.7" r="5.8"/><circle cx="230.6" cy="299.5" r="5.8"/><circle cx="244.5" cy="298.3" r="5.8"/><circle cx="255.6" cy="299.5" r="5.8"/><circle cx="264.5" cy="298.9" r="5.8"/><circle cx="282.9" cy="295.0" r="5.8"/><circle cx="281.2" cy="305.6" r="5.8"/><circle cx="276.8" cy="298.9" r="5.8"/><circle cx="240.6" cy="307.3" r="5.8"/><circle cx="217.2" cy="310.0" r="5.8"/><circle cx="226.7" cy="313.9" r="5.8"/><circle cx="255.6" cy="316.7" r="5.8"/><circle cx="237.8" cy="316.7" r="5.8"/><circle cx="238.4" cy="323.4" r="5.8"/><circle cx="230.0" cy="325.6" r="5.8"/><circle cx="251.2" cy="327.3" r="5.8"/><circle cx="254.5" cy="322.3" r="5.8"/><circle cx="265.6" cy="322.3" r="5.8"/><circle cx="276.8" cy="318.4" r="5.8"/><circle cx="287.9" cy="321.2" r="5.8"/><circle cx="271.2" cy="331.7" r="5.8"/><circle cx="262.3" cy="332.3" r="5.8"/><circle cx="281.2" cy="329.0" r="5.8"/><circle cx="217.2" cy="331.7" r="5.8"/><circle cx="233.4" cy="336.7" r="5.8"/><circle cx="237.8" cy="336.7" r="5.8"/><circle cx="250.1" cy="340.6" r="5.8"/><circle cx="211.1" cy="340.6" r="5.8"/><circle cx="223.9" cy="345.1" r="5.8"/><circle cx="232.3" cy="345.7" r="5.8"/><circle cx="261.2" cy="340.1" r="5.8"/><circle cx="270.1" cy="342.3" r="5.8"/><circle cx="277.9" cy="349.5" r="5.8"/><circle cx="287.9" cy="336.7" r="5.8"/><circle cx="260.1" cy="349.0" r="5.8"/><circle cx="220.6" cy="355.1" r="5.8"/><circle cx="231.1" cy="355.7" r="5.8"/><circle cx="251.7" cy="355.1" r="5.8"/><circle cx="266.8" cy="352.3" r="5.8"/><circle cx="212.2" cy="363.5" r="5.8"/><circle cx="221.1" cy="364.6" r="5.8"/><circle cx="232.8" cy="366.8" r="5.8"/><circle cx="251.2" cy="364.6" r="5.8"/><circle cx="267.9" cy="360.1" r="5.8"/><circle cx="276.8" cy="363.5" r="5.8"/><circle cx="288.7" cy="239.8" r="5.8"/><circle cx="290.0" cy="235.6" r="5.8"/><circle cx="288.0" cy="250.2" r="5.8"/><circle cx="286.6" cy="260.0" r="5.8"/><circle cx="296.3" cy="260.0" r="5.8"/><circle cx="290.0" cy="269.0" r="5.8"/><circle cx="298.4" cy="266.9" r="5.8"/><circle cx="366.7" cy="384.5" r="5.8"/><circle cx="375.6" cy="386.7" r="5.8"/><circle cx="396.7" cy="385.6" r="5.8"/><circle cx="417.9" cy="386.7" r="5.8"/><circle cx="426.7" cy="386.7" r="5.8"/><circle cx="368.9" cy="395.6" r="5.8"/><circle cx="411.2" cy="395.6" r="5.8"/><circle cx="364.5" cy="408.9" r="5.8"/><circle cx="383.4" cy="410.0" r="5.8"/><circle cx="416.7" cy="404.5" r="5.8"/><circle cx="424.5" cy="410.0" r="5.8"/><circle cx="477.9" cy="386.7" r="5.8"/><circle cx="462.4" cy="410.0" r="5.8"/><circle cx="366.7" cy="432.3" r="5.8"/><circle cx="383.4" cy="432.3" r="5.8"/><circle cx="392.3" cy="426.7" r="5.8"/><circle cx="400.0" cy="432.3" r="5.8"/><circle cx="406.7" cy="432.3" r="5.8"/><circle cx="414.5" cy="437.9" r="5.8"/><circle cx="393.4" cy="441.2" r="5.8"/><circle cx="400.0" cy="439.0" r="5.8"/><circle cx="435.7" cy="431.2" r="5.8"/><circle cx="433.4" cy="441.2" r="5.8"/><circle cx="423.4" cy="445.6" r="5.8"/><circle cx="444.5" cy="427.8" r="5.8"/><circle cx="457.9" cy="427.8" r="5.8"/><circle cx="464.6" cy="429.0" r="5.8"/><circle cx="477.9" cy="429.0" r="5.8"/><circle cx="484.6" cy="424.5" r="5.8"/><circle cx="501.3" cy="425.6" r="5.8"/><circle cx="366.7" cy="450.1" r="5.8"/><circle cx="381.1" cy="451.2" r="5.8"/><circle cx="398.9" cy="451.2" r="5.8"/><circle cx="407.8" cy="455.7" r="5.8"/><circle cx="416.7" cy="457.9" r="5.8"/><circle cx="412.3" cy="446.8" r="5.8"/><circle cx="375.6" cy="464.6" r="5.8"/><circle cx="390.0" cy="462.3" r="5.8"/><circle cx="406.7" cy="464.6" r="5.8"/><circle cx="362.2" cy="464.6" r="5.8"/><circle cx="374.5" cy="477.9" r="5.8"/><circle cx="384.5" cy="482.4" r="5.8"/><circle cx="396.7" cy="477.9" r="5.8"/><circle cx="406.7" cy="482.4" r="5.8"/><circle cx="411.2" cy="482.4" r="5.8"/><circle cx="398.9" cy="492.4" r="5.8"/><circle cx="362.2" cy="489.0" r="5.8"/><circle cx="377.8" cy="494.6" r="5.8"/><circle cx="376.7" cy="501.3" r="5.8"/><circle cx="363.3" cy="501.3" r="5.8"/><circle cx="409.0" cy="504.6" r="5.8"/><circle cx="394.5" cy="514.6" r="5.8"/><circle cx="407.8" cy="514.6" r="5.8"/><circle cx="370.0" cy="514.6" r="5.8"/><circle cx="366.7" cy="520.2" r="5.8"/><circle cx="283.2" cy="295.6" r="5.8"/><circle cx="281.1" cy="305.3" r="5.8"/><circle cx="292.3" cy="309.5" r="5.8"/><circle cx="299.2" cy="309.5" r="5.8"/><circle cx="295.0" cy="299.0" r="5.8"/><circle cx="311.7" cy="295.6" r="5.8"/><circle cx="310.3" cy="305.3" r="5.8"/><circle cx="317.3" cy="308.1" r="5.8"/><circle cx="277.0" cy="319.2" r="5.8"/><circle cx="290.9" cy="322.0" r="5.8"/><circle cx="278.3" cy="330.3" r="5.8"/><circle cx="289.5" cy="331.7" r="5.8"/><circle cx="272.1" cy="331.7" r="5.8"/><circle cx="293.6" cy="345.6" r="5.8"/><circle cx="277.0" cy="349.8" r="5.8"/><circle cx="286.7" cy="348.4" r="5.8"/><circle cx="277.0" cy="363.7" r="5.8"/><circle cx="285.3" cy="367.9" r="5.8"/><circle cx="272.8" cy="376.2" r="5.8"/><circle cx="278.3" cy="386.0" r="5.8"/><circle cx="286.7" cy="386.0" r="5.8"/><circle cx="324.3" cy="337.3" r="5.8"/><circle cx="328.4" cy="333.1" r="5.8"/><circle cx="318.0" cy="326.2" r="5.8"/><circle cx="311.7" cy="330.3" r="5.8"/><circle cx="310.3" cy="340.1" r="5.8"/><circle cx="342.3" cy="324.1" r="5.8"/><circle cx="301.3" cy="376.2" r="5.8"/><circle cx="315.9" cy="372.1" r="5.8"/><circle cx="334.5" cy="469.5" r="5.8"/><circle cx="339.0" cy="469.5" r="5.8"/><circle cx="332.3" cy="482.3" r="5.8"/><circle cx="339.0" cy="482.9" r="5.8"/><circle cx="324.5" cy="486.7" r="5.8"/><circle cx="342.3" cy="492.3" r="5.8"/><circle cx="334.5" cy="500.7" r="5.8"/><circle cx="325.6" cy="500.7" r="5.8"/><circle cx="300.0" cy="473.4" r="5.8"/><circle cx="300.0" cy="479.0" r="5.8"/><circle cx="313.4" cy="446.1" r="5.8"/><circle cx="359.0" cy="492.3" r="5.8"/></g>
<circle cx="534.6" cy="171.5" r="6.9" fill="#999"/><circle cx="533.6" cy="175.5" r="6.9" fill="#999"/><circle cx="536.7" cy="164.4" r="5.8" fill="#c0c0c0" stroke="#909090" stroke-width="2.0"/>
<g fill="#000"><path d="M167 480Q167 476 172 474L196 476L199 500L204 528L212 532L219 545L227 556L230 566L223 576L217 582L236 576L260 582L268 590L265 596.5L200 596.5L198 598.5L167 598.5Z"/><circle cx="301.4" cy="327.5" r="6.6"/><circle cx="305.9" cy="345.4" r="6.6"/><circle cx="198.7" cy="340.4" r="6.6"/><circle cx="193.0" cy="364.3" r="6.6"/><circle cx="184.2" cy="391.0" r="6.6"/><circle cx="184.2" cy="399.3" r="6.6"/><circle cx="185.0" cy="408.5" r="6.6"/><circle cx="191.7" cy="412.7" r="6.6"/><circle cx="303.7" cy="441.7" r="6.6"/><circle cx="290.3" cy="450.4" r="6.6"/><circle cx="301.4" cy="491.8" r="6.6"/><circle cx="183.4" cy="415.0" r="6.6"/><circle cx="193.4" cy="419.2" r="6.6"/><circle cx="176.7" cy="420.0" r="6.6"/><circle cx="177.5" cy="431.7" r="6.6"/><circle cx="180.0" cy="440.0" r="6.6"/><circle cx="179.2" cy="448.4" r="6.6"/><circle cx="186.7" cy="455.9" r="6.6"/><circle cx="176.7" cy="455.9" r="6.6"/><circle cx="179.2" cy="465.1" r="6.6"/><circle cx="238.4" cy="440.9" r="6.6"/><circle cx="238.4" cy="446.7" r="6.6"/><circle cx="234.3" cy="460.1" r="6.6"/><circle cx="240.1" cy="465.1" r="6.6"/><circle cx="283.5" cy="427.5" r="6.6"/><circle cx="205.9" cy="473.4" r="6.6"/><circle cx="211.7" cy="478.4" r="6.6"/><circle cx="174.2" cy="478.4" r="6.6"/><circle cx="188.4" cy="478.4" r="6.6"/><circle cx="225.1" cy="482.6" r="6.6"/><circle cx="235.9" cy="491.8" r="6.6"/><circle cx="207.6" cy="491.8" r="6.6"/><circle cx="195.0" cy="486.8" r="6.6"/><circle cx="180.0" cy="490.1" r="6.6"/><circle cx="176.7" cy="500.1" r="6.6"/><circle cx="188.4" cy="501.8" r="6.6"/><circle cx="197.5" cy="500.1" r="6.6"/><circle cx="214.2" cy="501.0" r="6.6"/><circle cx="263.5" cy="501.0" r="6.6"/><circle cx="263.5" cy="511.0" r="6.6"/><circle cx="277.7" cy="511.0" r="6.6"/><circle cx="173.3" cy="510.1" r="6.6"/><circle cx="185.0" cy="513.5" r="6.6"/><circle cx="196.7" cy="516.8" r="6.6"/><circle cx="206.7" cy="510.1" r="6.6"/><circle cx="217.6" cy="514.3" r="6.6"/><circle cx="233.4" cy="510.1" r="6.6"/><circle cx="241.8" cy="518.5" r="6.6"/><circle cx="254.3" cy="518.5" r="6.6"/><circle cx="219.2" cy="521.8" r="6.6"/><circle cx="232.6" cy="525.2" r="6.6"/><circle cx="258.5" cy="525.2" r="6.6"/><circle cx="176.7" cy="525.2" r="6.6"/><circle cx="190.0" cy="525.2" r="6.6"/><circle cx="203.4" cy="528.5" r="6.6"/><circle cx="183.9" cy="407.8" r="6.6"/><circle cx="173.9" cy="418.9" r="6.6"/><circle cx="183.9" cy="417.8" r="6.6"/><circle cx="179.4" cy="450.0" r="6.6"/><circle cx="202.3" cy="531.2" r="6.6"/><circle cx="213.4" cy="541.2" r="6.6"/><circle cx="231.2" cy="533.5" r="6.6"/><circle cx="233.4" cy="542.3" r="6.6"/><circle cx="251.2" cy="529.0" r="6.6"/><circle cx="257.9" cy="537.9" r="6.6"/><circle cx="253.5" cy="543.5" r="6.6"/><circle cx="273.5" cy="545.7" r="6.6"/><circle cx="266.8" cy="555.7" r="6.6"/><circle cx="249.0" cy="560.2" r="6.6"/><circle cx="220.1" cy="553.5" r="6.6"/><circle cx="224.5" cy="565.7" r="6.6"/><circle cx="210.0" cy="569.0" r="6.6"/><circle cx="264.6" cy="569.0" r="6.6"/><circle cx="282.4" cy="573.5" r="6.6"/><circle cx="293.5" cy="580.2" r="6.6"/><circle cx="255.7" cy="578.0" r="6.6"/><circle cx="244.6" cy="573.5" r="6.6"/><circle cx="231.2" cy="582.4" r="6.6"/><circle cx="217.9" cy="586.9" r="6.6"/><circle cx="260.1" cy="589.1" r="6.6"/><circle cx="242.3" cy="591.3" r="6.6"/><circle cx="173.9" cy="477.8" r="6.6"/><circle cx="189.5" cy="478.3" r="6.6"/><circle cx="180.0" cy="470.0" r="6.6"/><circle cx="206.2" cy="474.5" r="6.6"/><circle cx="212.3" cy="478.9" r="6.6"/><circle cx="225.7" cy="482.8" r="6.6"/><circle cx="234.6" cy="491.7" r="6.6"/><circle cx="207.9" cy="491.7" r="6.6"/><circle cx="215.1" cy="501.2" r="6.6"/><circle cx="173.4" cy="494.5" r="6.6"/><circle cx="185.6" cy="492.3" r="6.6"/><circle cx="194.5" cy="487.8" r="6.6"/><circle cx="193.4" cy="501.2" r="6.6"/><circle cx="174.5" cy="507.8" r="6.6"/><circle cx="206.7" cy="510.1" r="6.6"/><circle cx="217.9" cy="516.7" r="6.6"/><circle cx="219.0" cy="522.3" r="6.6"/><circle cx="233.5" cy="510.1" r="6.6"/><circle cx="232.3" cy="523.4" r="6.6"/><circle cx="233.5" cy="541.2" r="6.6"/><circle cx="203.4" cy="532.3" r="6.6"/><circle cx="210.1" cy="541.2" r="6.6"/><circle cx="194.5" cy="520.0" r="6.6"/><circle cx="172.2" cy="527.9" r="6.6"/><circle cx="182.3" cy="536.8" r="6.6"/><circle cx="172.2" cy="542.3" r="6.6"/><circle cx="193.4" cy="541.2" r="6.6"/><circle cx="234.5" cy="538.9" r="6.6"/><circle cx="252.3" cy="532.2" r="6.6"/><circle cx="262.3" cy="536.7" r="6.6"/><circle cx="253.4" cy="544.5" r="6.6"/><circle cx="273.4" cy="546.7" r="6.6"/><circle cx="265.6" cy="555.6" r="6.6"/><circle cx="250.0" cy="561.2" r="6.6"/><circle cx="266.7" cy="569.0" r="6.6"/><circle cx="246.7" cy="572.3" r="6.6"/><circle cx="236.7" cy="580.0" r="6.6"/><circle cx="252.3" cy="580.0" r="6.6"/><circle cx="262.3" cy="579.0" r="6.6"/><circle cx="261.2" cy="589.0" r="6.6"/><circle cx="243.4" cy="587.9" r="6.6"/><circle cx="231.1" cy="589.0" r="6.6"/><circle cx="282.3" cy="576.7" r="6.6"/><circle cx="293.4" cy="580.0" r="6.6"/><circle cx="173.9" cy="419.8" r="6.6"/></g>
<g font-family="Liberation Sans" font-size="23" fill="#000" text-anchor="end">
<text x="155" y="53">1200</text>
<text x="155" y="144.6">1000</text>
<text x="155" y="236.2">800</text>
<text x="155" y="327.7">600</text>
<text x="155" y="419.3">400</text>
<text x="155" y="510.9">200</text>
<text x="155" y="602.4">0</text>
</g>
<g font-family="Liberation Sans" font-size="23" fill="#000" text-anchor="middle">
<text x="173.5" y="630">0</text>
<text x="249" y="630">100</text>
<text x="324.5" y="630">200</text>
<text x="400" y="630">300</text>
<text x="475.5" y="630">400</text>
<text x="551" y="630">500</text>
<text x="626.3" y="630">600</text>
</g>
<text x="399.2" y="682.8" font-family="Liberation Sans" font-size="31.5" letter-spacing="0.6" font-weight="bold" text-anchor="middle">Distance upriver (km)</text>
<text transform="translate(92.5 340.6) rotate(-90)" font-family="Liberation Sans" font-size="32" letter-spacing="0.67" font-weight="bold" text-anchor="middle">Altitude (m)</text>
<circle cx="444.4" cy="528.9" r="6.5" fill="#c0c0c0"/>
<circle cx="444.4" cy="565.6" r="6.5" fill="#000"/>
<text x="454.5" y="535.1" font-family="Liberation Sans" font-size="21" letter-spacing="0.35">all sites</text>
<text x="454.5" y="572.2" font-family="Liberation Sans" font-size="21" letter-spacing="0.3">banded kokopu</text>
</svg>
</body></html>
